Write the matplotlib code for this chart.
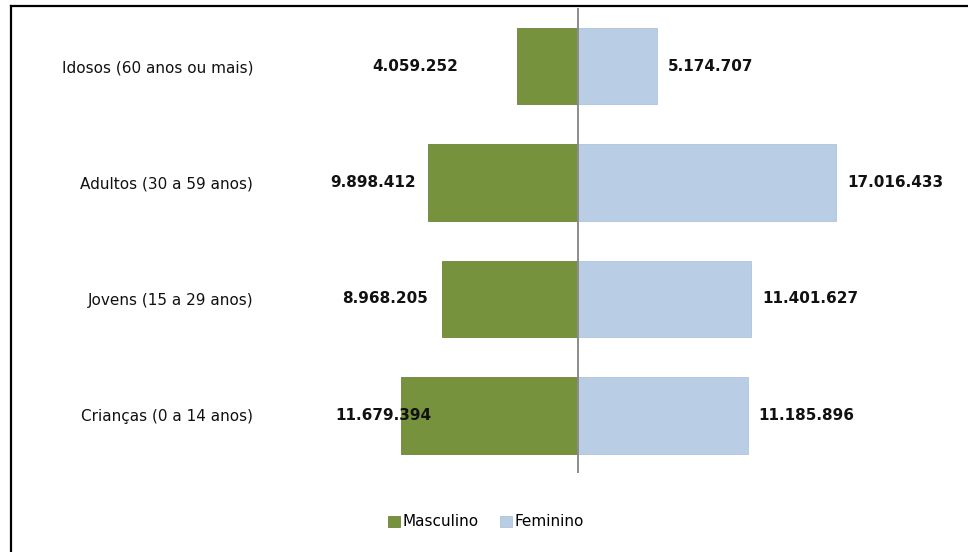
import matplotlib.pyplot as plt
from matplotlib.lines import Line2D

plt.rcParams['font.family'] = ['Liberation Sans Narrow', 'DejaVu Sans']

# age groups, bottom to top
grupos = ['Crianças (0 a 14 anos)', 'Jovens (15 a 29 anos)',
          'Adultos (30 a 59 anos)', 'Idosos (60 anos ou mais)']
masculino = [11679394, 8968205, 9898412, 4059252]
feminino = [11185896, 11401627, 17016433, 5174707]

# label offsets (pixels) from the end of each bar
off_masc = [30, -14, -12, -58]
off_fem = [11, 11, 11, 11]

verde = '#76923C'
azul = '#B9CDE5'

fig = plt.figure(figsize=(9.68, 5.52), dpi=100)
ax = fig.add_axes([260 / 968, 1 - 473 / 552, 700 / 968, 465 / 552])

y = range(len(grupos))
neg = [-v for v in masculino]
ax.barh(y, neg, height=0.66, color=verde, edgecolor='#6A8535', linewidth=0.6, label='Masculino')
ax.barh(y, feminino, height=0.66, color=azul, edgecolor='#AFC3DB', linewidth=0.6, label='Feminino')
ax.axvline(0, color='#8C8C8C', lw=1.4, zorder=3)

def fmt(v):
    return f'{v:,}'.replace(',', '.')

for i in y:
    ax.annotate(fmt(masculino[i]), (neg[i], i), xytext=(off_masc[i] * 0.72, 0),
                textcoords='offset points', ha='right', va='center',
                fontsize=11, fontweight='bold', color='#111111', zorder=4)
    ax.annotate(fmt(feminino[i]), (feminino[i], i), xytext=(off_fem[i] * 0.72, 0),
                textcoords='offset points', ha='left', va='center',
                fontsize=11, fontweight='bold', color='#111111', zorder=4)

ax.set_xlim(-20.98e6, 25.19e6)
ax.set_ylim(-0.494, 3.498)
ax.set_yticks(list(y))
ax.set_yticklabels(grupos, fontsize=11, color='#111111')
ax.tick_params(axis='y', length=0, pad=5)
ax.set_xticks([])
for s in ax.spines.values():
    s.set_visible(False)

fig.legend(loc='center', bbox_to_anchor=(486 / 968, 1 - 522 / 552), ncol=2, frameon=False,
           fontsize=11, handlelength=0.75, handleheight=0.75, handletextpad=0.2,
           columnspacing=1.4)

# outer frame
fig.add_artist(Line2D([11 / 968, 11 / 968], [0, 1 - 6 / 552], color='black', lw=1.6))
fig.add_artist(Line2D([11 / 968, 1], [1 - 6 / 552, 1 - 6 / 552], color='black', lw=1.6))

fig.savefig('out.png', dpi=100)
